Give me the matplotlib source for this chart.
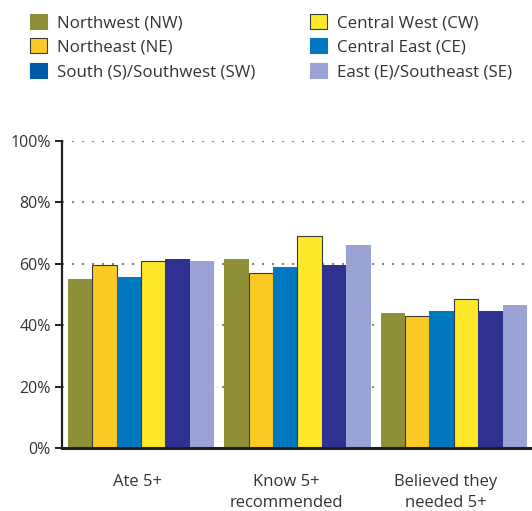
import numpy as np
import matplotlib.pyplot as plt
from matplotlib.patches import Patch

plt.rcParams['font.family'] = ['Open Sans', 'DejaVu Sans']

categories = ['Ate 5+', 'Know 5+\nrecommended', 'Believed they\nneeded 5+']
regions = ['Northwest (NW)', 'Northeast (NE)', 'South (S)/Southwest (SW)',
           'Central West (CW)', 'Central East (CE)', 'East (E)/Southeast (SE)']
values = {
    'Northwest (NW)': [55, 61.6, 44],
    'Northeast (NE)': [59.6, 57, 43],
    'South (S)/Southwest (SW)': [55.7, 59, 44.6],
    'Central West (CW)': [61, 69, 48.5],
    'Central East (CE)': [61.6, 59.6, 44.6],
    'East (E)/Southeast (SE)': [61, 66, 46.6],
}
bar_colors = ['#8E8F37', '#FCCA25', '#0078C0', '#FDE82A', '#2E318F', '#9BA3D4']
legend_colors = ['#8E8F37', '#FCCA25', '#0059A5', '#FDE82A', '#0078C0', '#9BA3D4']
outlined = [False, True, False, True, False, False]
txt = '#333333'

fig = plt.figure(figsize=(5.32, 5.11), dpi=100)
ax = fig.add_axes([62/532, 63/511, 470/532, 307/511])

x = np.arange(len(categories))
w = 0.156
for i, r in enumerate(regions):
    ec = '#3a3a3a' if outlined[i] else 'none'
    ax.bar(x + (i - 2.5) * w, values[r], w, color=bar_colors[i],
           edgecolor=ec, linewidth=0.8, zorder=2)

ax.set_xlim(-0.505, 2.5)
ax.set_ylim(0, 100)
ax.set_yticks([0, 20, 40, 60, 80, 100])
ax.set_yticklabels([f'{v}%' for v in range(0, 101, 20)], color=txt, fontsize=11.5)
# labels sit slightly left of the group centres in the original
ax.set_xticks(x - np.array([0.02, 0.07, 0.05]))
ax.set_xticklabels(categories, color=txt, fontsize=12, linespacing=1.4)
ax.tick_params(axis='x', length=0, pad=19)
ax.tick_params(axis='y', length=5, width=1.4, color='#231f20', pad=3)
for v in [20, 40, 60, 80, 100]:
    ax.axhline(v, color='#8a8a8a', lw=1.5, linestyle=(0, (1, 3.8)), zorder=1)
for s in ['top', 'right']:
    ax.spines[s].set_visible(False)
ax.spines['left'].set_linewidth(1.6)
ax.spines['left'].set_color('#231f20')
ax.spines['bottom'].set_linewidth(2.2)
ax.spines['bottom'].set_color('#231f20')

handles = [Patch(facecolor=legend_colors[i],
                 edgecolor='#3a3a3a' if outlined[i] else legend_colors[i],
                 linewidth=0.8, label=regions[i]) for i in range(6)]
leg_kw = dict(frameon=False, fontsize=12.2, handlelength=1.0, handleheight=1.0,
              handletextpad=0.6, labelspacing=0.42, labelcolor=txt, borderaxespad=0)
fig.legend(handles=handles[:3], loc='upper left', bbox_to_anchor=(23/532, 1 - 7/511), **leg_kw)
fig.legend(handles=handles[3:], loc='upper left', bbox_to_anchor=(303/532, 1 - 7/511), **leg_kw)

fig.savefig('out.png', dpi=100)
